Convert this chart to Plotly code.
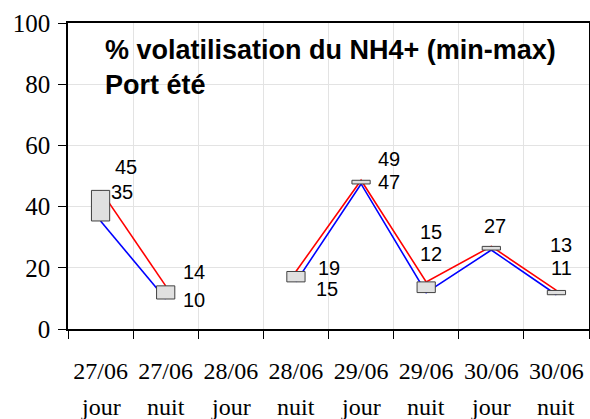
import plotly.graph_objects as go

# data
dates = ["27/06", "27/06", "28/06", "28/06", "29/06", "29/06", "30/06", "30/06"]
periods = ["jour", "nuit", "jour", "nuit", "jour", "nuit", "jour", "nuit"]
vol_max = [45.3, 14.1, None, 18.8, 48.6, 15.4, 27.0, 12.6]
vol_min = [35.3, 9.8, None, 15.4, 47.4, 11.9, 25.8, 11.2]

# manual label placement (pixel shifts), None = label hidden
max_shift = [(25, 23), (28, 14), None, (33, 3), (28, 21), (5, 50), (4, 20), (5, 45)]
min_shift = [(21, 29), (28, -1), None, (31, -7), (28, 2), (5, 39), None, (5, 27)]

xs = list(range(len(dates)))
BOX_W = 0.14

fig = go.Figure()

fig.add_trace(go.Scatter(
    x=xs, y=vol_min, mode="lines", line=dict(color="#0000ff", width=1.6),
    connectgaps=False, hoverinfo="skip", showlegend=False,
))
fig.add_trace(go.Scatter(
    x=xs, y=vol_max, mode="lines", line=dict(color="#ff0000", width=1.6),
    connectgaps=False, hoverinfo="skip", showlegend=False,
))

# min-max boxes drawn above the lines
for i, (hi, lo) in enumerate(zip(vol_max, vol_min)):
    if hi is None:
        continue
    fig.add_trace(go.Scatter(
        x=[i - BOX_W, i + BOX_W, i + BOX_W, i - BOX_W, i - BOX_W],
        y=[lo, lo, hi, hi, lo],
        mode="lines", fill="toself", fillcolor="#e0e0e0",
        line=dict(color="#404040", width=1),
        hoverinfo="skip", showlegend=False,
    ))

label_font = dict(family="Liberation Sans, Arial, sans-serif", size=20, color="black")
for i in xs:
    for vals, shifts in ((vol_max, max_shift), (vol_min, min_shift)):
        if vals[i] is None or shifts[i] is None:
            continue
        fig.add_annotation(
            x=i, y=vals[i], text=f"{vals[i]:.0f}", showarrow=False,
            xshift=shifts[i][0], yshift=shifts[i][1],
            font=label_font, xanchor="center", yanchor="middle",
        )

# second line of the category labels (jour / nuit)
for i, p in zip(xs, periods):
    fig.add_annotation(
        x=i, y=0, text=p, showarrow=False, yshift=-78,
        xanchor="center", yanchor="middle",
        font=dict(family="Liberation Serif, Times New Roman, serif", size=24, color="black"),
    )

title_font = dict(family="Liberation Sans, Arial, sans-serif", size=27, color="black")
fig.add_annotation(x=0.067, y=0.912, xref="paper", yref="paper",
                   text="<b>% volatilisation du NH4+ (min-max)</b>",
                   showarrow=False, xanchor="left", yanchor="middle", font=title_font)
fig.add_annotation(x=0.067, y=0.797, xref="paper", yref="paper",
                   text="<b>Port été</b>",
                   showarrow=False, xanchor="left", yanchor="middle", font=title_font)

boundaries = [i - 0.5 for i in range(len(dates) + 1)]

fig.update_layout(
    width=590, height=419,
    margin=dict(l=68, r=1, t=23, b=90),
    paper_bgcolor="white", plot_bgcolor="white",
    font=dict(family="Liberation Serif, Times New Roman, serif", color="black"),
    xaxis=dict(
        range=[-0.5, len(dates) - 0.5], automargin=False,
        tickvals=xs, ticktext=dates, ticks="",
        tickfont=dict(size=24), ticklabelstandoff=19,
        showgrid=False, zeroline=False,
        showline=True, linecolor="black", linewidth=1.5, mirror=True,
        minor=dict(tickvals=boundaries, ticks="outside", ticklen=8,
                   tickcolor="black", showgrid=True, gridcolor="#e3e3e3", gridwidth=1),
    ),
    yaxis=dict(
        range=[0, 100], dtick=20, ticks="outside", ticklen=8, tickcolor="black",
        tickfont=dict(size=25), automargin=False, ticklabelstandoff=3,
        showgrid=True, gridcolor="#e3e3e3", gridwidth=1, zeroline=False,
        showline=True, linecolor="black", linewidth=1.5, mirror=True,
    ),
)

fig.write_html("out.html", config={"displayModeBar": False},
               post_script="document.body.style.margin='0';")
